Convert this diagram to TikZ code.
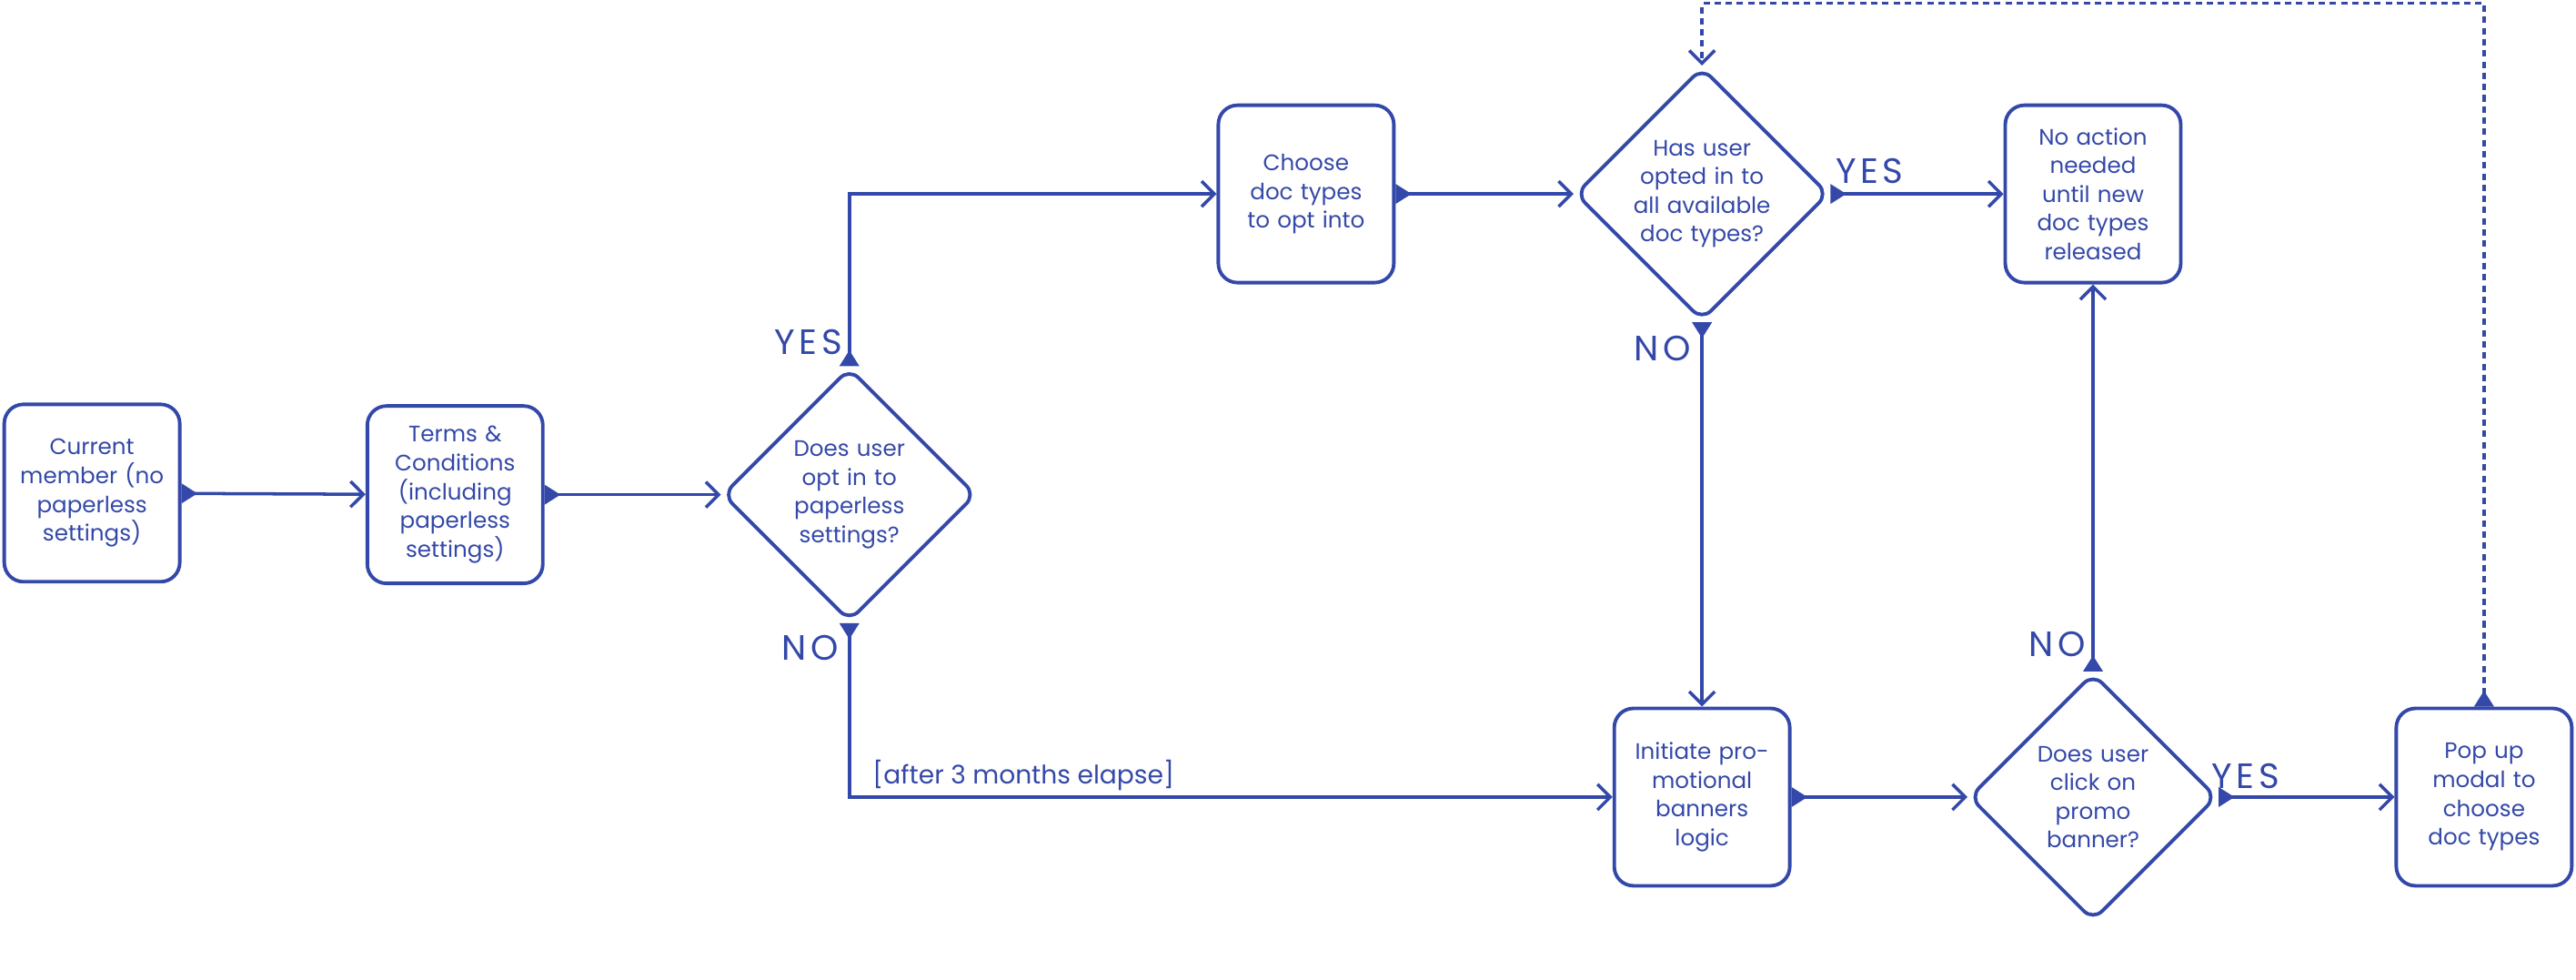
\documentclass[tikz,border=0pt]{standalone}
\usepackage{fontspec}
\setmainfont{Poppins}
\usetikzlibrary{shapes.geometric,arrows.meta}
\definecolor{fc}{RGB}{51,72,168}
\begin{document}
\begin{tikzpicture}[x=0.018061cm,y=-0.018061cm,
 box/.style={draw=fc,line width=1.1pt,rounded corners=6pt,minimum width=1.93cm,minimum height=1.95cm,text width=1.6cm,align=center,font=\fontsize{7}{9}\selectfont,text=fc,inner sep=1pt},
 dia/.style={draw=fc,line width=1.1pt,diamond,aspect=1,minimum size=2.71cm,inner sep=0pt,text width=1.6cm,align=center,font=\fontsize{7}{9}\selectfont,text=fc,rounded corners=4pt},
 con/.style={draw=fc,line width=1pt,{Triangle[reversed,width=6pt,length=5pt]}-{Straight Barb[width=8pt,length=4pt]}},
 lab/.style={text=fc,font=\fontsize{11}{12}\selectfont\addfontfeatures{LetterSpace=12}},
 small/.style={text=fc,font=\fontsize{8}{10}\selectfont}]
\useasboundingbox (0,0) rectangle (1568,595.8);
\node[box] (b1) at (56,300) {Current member (no paperless settings)};
\node[box] (b2) at (277,301) {Terms \& Conditions (including paperless settings)};
\node[dia] (d1) at (517,301) {Does user opt in to paperless settings?};
\node[box] (b3) at (795,118) {Choose doc types to opt into};
\node[dia] (d2) at (1036,118) {Has user opted in to all available doc types?};
\node[box] (b4) at (1274,118) {No action needed until new doc types released};
\node[box] (b5) at (1036,485) {Initiate promotional banners\ \ logic};
\node[dia] (d3) at (1274,485) {Does user click on promo banner?};
\node[box] (b6) at (1512,485) {Pop up modal to choose doc types};
\draw[con] (b1) -- (b2);
\draw[con] (b2) -- (d1);
\draw[con] (d1.north) |- (b3.west);
\draw[con] (d1.south) |- (b5.west);
\draw[con] (b3) -- (d2);
\draw[con] (d2.east) -- (b4.west);
\draw[con] (d2.south) -- (b5.north);
\draw[con] (b5) -- (d3);
\draw[con] (d3.east) -- (b6.west);
\draw[con] (d3.north) -- (b4.south);
\coordinate (c1) at (1512,2);
\coordinate (c2) at (1036,2);
\draw[con,dash pattern=on 2pt off 1.5pt] (b6.north) -- (c1) -- (c2) -- (d2.north);
\node[lab] at (492,208) {YES};
\node[lab] at (493,394) {NO};
\node[lab] at (1138,104) {YES};
\node[lab] at (1012,212) {NO};
\node[lab] at (1367,472) {YES};
\node[lab] at (1252,392) {NO};
\node[small] at (623,472) {[after 3 months elapse]};
\end{tikzpicture}
\end{document}
